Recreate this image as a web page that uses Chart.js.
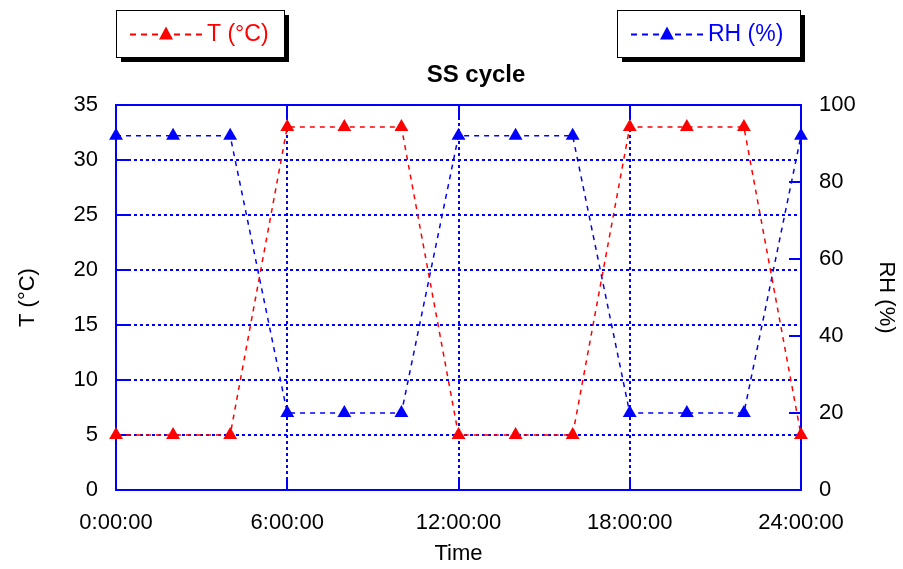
<!DOCTYPE html>
<html>
<head>
<meta charset="utf-8">
<script src="https://cdn.jsdelivr.net/npm/chart.js@4/dist/chart.umd.min.js"></script>
<style>
html,body{margin:0;padding:0;background:#fff;}
canvas{display:block;}
</style>
</head>
<body>
<canvas id="c" width="903" height="569"></canvas>
<script>
const hours = [0, 2, 4, 6, 8, 10, 12, 14, 16, 18, 20, 22, 24];
const tempC = [5, 5, 5, 33, 33, 33, 5, 5, 5, 33, 33, 33, 5];
const rhPct = [92, 92, 92, 20, 20, 20, 92, 92, 92, 20, 20, 20, 92];
const xTicks = [0, 6, 12, 18, 24];
const titleText = 'SS cycle';
const tLabel = 'T (°C)';
const rhLabel = 'RH (%)';

const RED = '#ff0000';
const BLUE = '#0000ff';
const FONT = 'Liberation Sans, Arial, sans-serif';

const pts = (ys) => hours.map((h, i) => ({x: h, y: ys[i]}));

const decor = {
  id: 'decor',
  beforeDatasetsDraw(chart) {
    const {ctx, chartArea: a, scales} = chart;
    ctx.save();
    ctx.strokeStyle = BLUE;
    ctx.lineWidth = 2;
    ctx.setLineDash([3, 3]);
    ctx.beginPath();
    scales.y.ticks.forEach(t => {
      if (t.value <= scales.y.min || t.value >= scales.y.max) return;
      const py = Math.round(scales.y.getPixelForValue(t.value));
      ctx.moveTo(a.left, py); ctx.lineTo(a.right, py);
    });
    scales.x.ticks.forEach(t => {
      if (t.value <= scales.x.min || t.value >= scales.x.max) return;
      const px = Math.round(scales.x.getPixelForValue(t.value));
      ctx.moveTo(px, a.top); ctx.lineTo(px, a.bottom);
    });
    ctx.stroke();
    ctx.setLineDash([]);
    ctx.lineWidth = 2;
    ctx.strokeRect(a.left, a.top, a.right - a.left, a.bottom - a.top);
    ctx.lineWidth = 2;
    const L = 12;
    ctx.beginPath();
    scales.y.ticks.forEach(t => {
      const py = Math.round(scales.y.getPixelForValue(t.value));
      ctx.moveTo(a.left, py); ctx.lineTo(a.left + L, py);
    });
    scales.y1.ticks.forEach(t => {
      const py = Math.round(scales.y1.getPixelForValue(t.value));
      ctx.moveTo(a.right, py); ctx.lineTo(a.right - L, py);
    });
    scales.x.ticks.forEach(t => {
      const px = Math.round(scales.x.getPixelForValue(t.value));
      ctx.moveTo(px, a.top); ctx.lineTo(px, a.top + L);
      ctx.moveTo(px, a.bottom); ctx.lineTo(px, a.bottom - L);
    });
    ctx.stroke();
    ctx.restore();
  },
  afterDraw(chart) {
    const {ctx} = chart;
    ctx.save();
    ctx.fillStyle = '#000';
    ctx.font = 'bold 24px ' + FONT;
    ctx.textAlign = 'center';
    ctx.textBaseline = 'middle';
    ctx.fillText(titleText, 476, 75);
    const box = (x, y, w, h, color, label) => {
      ctx.setLineDash([]);
      ctx.fillStyle = '#000';
      ctx.fillRect(x + 5, y + 5, w, h);
      ctx.fillStyle = '#fff';
      ctx.fillRect(x, y, w, h);
      ctx.strokeStyle = '#000';
      ctx.lineWidth = 1;
      ctx.strokeRect(x + 0.5, y + 0.5, w, h);
      const cy = y + h / 2 + 1;
      ctx.strokeStyle = color;
      ctx.lineWidth = 2;
      ctx.setLineDash([6, 5]);
      ctx.beginPath();
      ctx.moveTo(x + 14, cy); ctx.lineTo(x + 86, cy);
      ctx.stroke();
      ctx.setLineDash([]);
      const tx = x + 50;
      ctx.fillStyle = color;
      ctx.beginPath();
      ctx.moveTo(tx, cy - 8); ctx.lineTo(tx + 7, cy + 5); ctx.lineTo(tx - 7, cy + 5);
      ctx.closePath(); ctx.fill();
      ctx.font = '23px ' + FONT;
      ctx.textAlign = 'left';
      ctx.textBaseline = 'middle';
      ctx.fillText(label, x + 91, cy);
    };
    box(116, 10, 168, 47, RED, tLabel);
    box(617, 10, 183, 47, BLUE, rhLabel);
    ctx.restore();
  }
};

const tickFont = {family: FONT, size: 22};

new Chart(document.getElementById('c'), {
  type: 'line',
  data: {
    datasets: [
      {
        label: tLabel, data: pts(tempC), yAxisID: 'y',
        borderColor: RED, backgroundColor: RED, borderWidth: 1.5,
        borderDash: [5, 5], pointStyle: 'triangle', pointRadius: 8,
        pointBorderWidth: 0, tension: 0, clip: false
      },
      {
        label: rhLabel, data: pts(rhPct), yAxisID: 'y1',
        borderColor: BLUE, backgroundColor: BLUE, borderWidth: 1.5,
        borderDash: [5, 5], pointStyle: 'triangle', pointRadius: 8,
        pointBorderWidth: 0, tension: 0, clip: false
      }
    ]
  },
  options: {
    responsive: false,
    animation: false,
    devicePixelRatio: 1,
    layout: {padding: {top: 105, left: 0, right: 0, bottom: 0}},
    plugins: {legend: {display: false}, title: {display: false}, tooltip: {enabled: false}},
    scales: {
      x: {
        type: 'linear', min: 0, max: 24,
        afterBuildTicks: (s) => { s.ticks = xTicks.map(v => ({value: v})); },
        afterFit: (s) => { s.height = 79; },
        grid: {display: false, drawTicks: false},
        border: {display: false},
        ticks: {color: '#000', font: tickFont, padding: 20, maxRotation: 0,
          callback: (v) => v + ':00:00'},
        title: {display: true, text: 'Time', color: '#000', font: {family: FONT, size: 22}, padding: {top: 0, bottom: 2}}
      },
      y: {
        position: 'left', min: 0, max: 35,
        ticks: {stepSize: 5, color: '#000', font: tickFont, padding: 18},
        afterFit: (s) => { s.width = 116; },
        grid: {display: false, drawTicks: false},
        border: {display: false},
        title: {display: true, text: 'T (°C)', color: '#000', font: {family: FONT, size: 22}, padding: {top: 15, bottom: 0}}
      },
      y1: {
        position: 'right', min: 0, max: 100,
        ticks: {stepSize: 20, color: '#000', font: tickFont, padding: 18},
        afterFit: (s) => { s.width = 102; },
        grid: {display: false, drawTicks: false},
        border: {display: false},
        title: {display: true, text: 'RH (%)', color: '#000', font: {family: FONT, size: 22}, padding: {top: 4, bottom: 0}}
      }
    }
  },
  plugins: [decor]
});
</script>
</body>
</html>
